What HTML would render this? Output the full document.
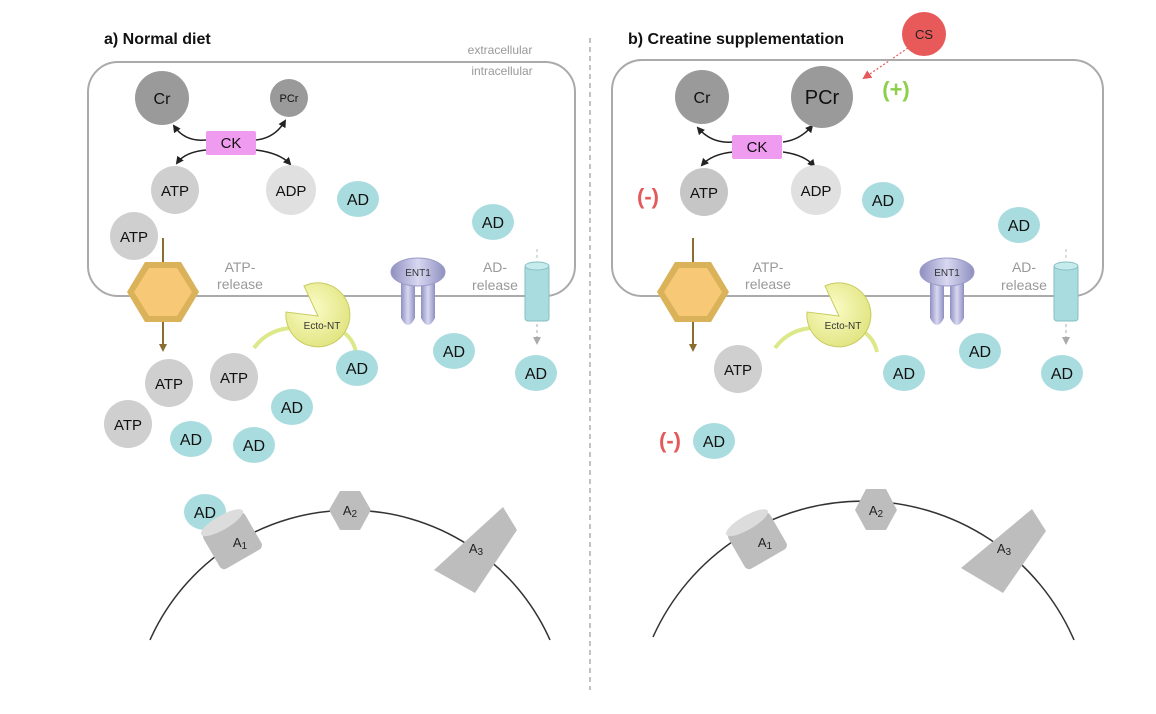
<!DOCTYPE html>
<html><head><meta charset="utf-8"><style>
html,body{margin:0;padding:0;background:#fff;}
svg{display:block;font-family:"Liberation Sans",sans-serif;}
</style></head><body>
<svg width="1156" height="714" viewBox="0 0 1156 714" xmlns="http://www.w3.org/2000/svg">
<defs>
<marker id="ah" markerWidth="8" markerHeight="8" refX="6" refY="4" orient="auto" markerUnits="userSpaceOnUse"><path d="M0,0 L8,4 L0,8 Z" fill="#222"/></marker>
<marker id="ahb" markerWidth="8" markerHeight="8" refX="6" refY="4" orient="auto" markerUnits="userSpaceOnUse"><path d="M0,0 L8,4 L0,8 Z" fill="#8a6d30"/></marker>
<marker id="ahg" markerWidth="8" markerHeight="8" refX="6" refY="4" orient="auto" markerUnits="userSpaceOnUse"><path d="M0,0 L8,4 L0,8 Z" fill="#aaa"/></marker>
<marker id="ahr" markerWidth="9" markerHeight="9" refX="7" refY="4.5" orient="auto" markerUnits="userSpaceOnUse"><path d="M0,0 L9,4.5 L0,9 Z" fill="#e45a5a"/></marker>
<linearGradient id="ent" x1="0" x2="1"><stop offset="0" stop-color="#8f8fc0"/><stop offset="0.5" stop-color="#d8d8f2"/><stop offset="1" stop-color="#8f8fc0"/></linearGradient>
<radialGradient id="ecto" cx="0.4" cy="0.4" r="0.7"><stop offset="0" stop-color="#fbfcc8"/><stop offset="1" stop-color="#dfe27a"/></radialGradient>
<g id="mem">
 <!-- hexagon channel -->
 <line x1="0" y1="-54" x2="0" y2="-30" stroke="#8a6d30" stroke-width="2"/>
 <polygon points="-18,-30 18,-30 36,0 18,30 -18,30 -36,0" fill="#d9b259"/>
 <polygon points="-14,-24 14,-24 29,0 14,24 -14,24 -29,0" fill="#f7c977"/>
 <line x1="0" y1="30" x2="0" y2="58" stroke="#8a6d30" stroke-width="2" marker-end="url(#ahb)"/>
</g>
<g id="ectont">
 <path d="M154,18 Q170,-4 200,-2" stroke="#dde88a" stroke-width="4" fill="none"/>
 <path d="M235,-2 Q252,4 256,22" stroke="#dde88a" stroke-width="4" fill="none"/>
 <path d="M218,-14 L186,-18 A32,32 0 1,0 204,-44 Z" fill="url(#ecto)" stroke="#c8cc60" stroke-width="1"/>
 <text x="222" y="-1" font-size="10" text-anchor="middle" fill="#333">Ecto-NT</text>
</g>
<g id="ent1">
 <path d="M-17,-10 L-17,28 Q-10,42 -3,28 L-3,-10 Z" fill="url(#ent)"/>
 <path d="M3,-10 L3,28 Q10,42 17,28 L17,-10 Z" fill="url(#ent)"/>
 <ellipse cx="0" cy="-18" rx="27" ry="14" fill="url(#ent)" stroke="#9a9ac8"/>
 <text x="0" y="-14" font-size="10" text-anchor="middle" fill="#333">ENT1</text>
</g>
<g id="cyl">
 <line x1="0" y1="-42" x2="0" y2="-30" stroke="#bbb" stroke-dasharray="3,3"/>
 <rect x="-12" y="-26" width="24" height="56" rx="3" fill="#a9dcdf" stroke="#86bfc2"/>
 <ellipse cx="0" cy="-25" rx="12" ry="4" fill="#c5ebed" stroke="#86bfc2"/>
 <line x1="0" y1="33" x2="0" y2="52" stroke="#aaa" stroke-dasharray="3,3" marker-end="url(#ahg)"/>
</g>
</defs>

<!-- divider -->
<line x1="590" y1="38" x2="590" y2="690" stroke="#999" stroke-width="1.2" stroke-dasharray="5,4"/>

<!-- ===== Panel a ===== -->
<text x="104" y="44" font-size="16" font-weight="bold" fill="#111">a) Normal diet</text>
<text x="500" y="54" font-size="12" text-anchor="middle" fill="#999">extracellular</text>
<text x="502" y="75" font-size="12" text-anchor="middle" fill="#999">intracellular</text>
<rect x="88" y="62" width="487" height="234" rx="30" fill="none" stroke="#aaa" stroke-width="2"/>

<path d="M206,140 Q185,142 174,126" stroke="#222" stroke-width="1.5" fill="none" marker-end="url(#ah)"/>
<path d="M256,140 Q275,138 285,121" stroke="#222" stroke-width="1.5" fill="none" marker-end="url(#ah)"/>
<path d="M206,150 Q185,152 177,163" stroke="#222" stroke-width="1.5" fill="none" marker-end="url(#ah)"/>
<path d="M256,150 Q280,153 290,164" stroke="#222" stroke-width="1.5" fill="none" marker-end="url(#ah)"/>
<circle cx="162" cy="98" r="27" fill="#9a9a9a"/><text x="162" y="104" font-size="16" text-anchor="middle" fill="#111">Cr</text>
<circle cx="289" cy="98" r="19" fill="#9a9a9a"/><text x="289" y="102" font-size="11" text-anchor="middle" fill="#111">PCr</text>
<rect x="206" y="131" width="50" height="24" rx="2" fill="#ef9bef"/><text x="231" y="148" font-size="15" text-anchor="middle" fill="#111">CK</text>
<circle cx="175" cy="190" r="24" fill="#cfcfcf"/><text x="175" y="196" font-size="15" text-anchor="middle" fill="#111">ATP</text>
<circle cx="291" cy="190" r="25" fill="#e0e0e0"/><text x="291" y="196" font-size="15" text-anchor="middle" fill="#111">ADP</text>
<ellipse cx="358" cy="199" rx="21" ry="18" fill="#a9dcdf"/><text x="358" y="205" font-size="16" text-anchor="middle" fill="#111">AD</text>
<circle cx="134" cy="236" r="24" fill="#cfcfcf"/><text x="134" y="242" font-size="15" text-anchor="middle" fill="#111">ATP</text>
<ellipse cx="493" cy="222" rx="21" ry="18" fill="#a9dcdf"/><text x="493" y="228" font-size="16" text-anchor="middle" fill="#111">AD</text>

<use href="#mem" x="163" y="292"/>
<text x="240" y="272" font-size="14" text-anchor="middle" fill="#999">ATP-</text>
<text x="240" y="289" font-size="14" text-anchor="middle" fill="#999">release</text>
<use href="#ectont" x="100" y="330"/>
<use href="#ent1" x="418" y="290"/>
<text x="495" y="272" font-size="14" text-anchor="middle" fill="#999">AD-</text>
<text x="495" y="290" font-size="14" text-anchor="middle" fill="#999">release</text>
<use href="#cyl" x="537" y="291"/>

<ellipse cx="454" cy="351" rx="21" ry="18" fill="#a9dcdf"/><text x="454" y="357" font-size="16" text-anchor="middle" fill="#111">AD</text>
<ellipse cx="536" cy="373" rx="21" ry="18" fill="#a9dcdf"/><text x="536" y="379" font-size="16" text-anchor="middle" fill="#111">AD</text>
<circle cx="169" cy="383" r="24" fill="#cfcfcf"/><text x="169" y="389" font-size="15" text-anchor="middle" fill="#111">ATP</text>
<circle cx="234" cy="377" r="24" fill="#cfcfcf"/><text x="234" y="383" font-size="15" text-anchor="middle" fill="#111">ATP</text>
<circle cx="128" cy="424" r="24" fill="#cfcfcf"/><text x="128" y="430" font-size="15" text-anchor="middle" fill="#111">ATP</text>
<ellipse cx="357" cy="368" rx="21" ry="18" fill="#a9dcdf"/><text x="357" y="374" font-size="16" text-anchor="middle" fill="#111">AD</text>
<ellipse cx="292" cy="407" rx="21" ry="18" fill="#a9dcdf"/><text x="292" y="413" font-size="16" text-anchor="middle" fill="#111">AD</text>
<ellipse cx="191" cy="439" rx="21" ry="18" fill="#a9dcdf"/><text x="191" y="445" font-size="16" text-anchor="middle" fill="#111">AD</text>
<ellipse cx="254" cy="445" rx="21" ry="18" fill="#a9dcdf"/><text x="254" y="451" font-size="16" text-anchor="middle" fill="#111">AD</text>

<!-- cell a -->
<path d="M150,640 A219,219 0 0,1 550,640" fill="none" stroke="#333" stroke-width="1.5"/>
<ellipse cx="205" cy="512" rx="21" ry="18" fill="#a9dcdf"/><text x="205" y="518" font-size="16" text-anchor="middle" fill="#111">AD</text>
<g transform="translate(232,540) rotate(-30)">
 <rect x="-24" y="-20" width="48" height="42" rx="5" fill="#bdbdbd"/>
 <ellipse cx="0" cy="-20" rx="24" ry="7" fill="#dcdcdc"/>
</g>
<text x="240" y="547" font-size="13" text-anchor="middle" fill="#222">A<tspan font-size="10" dy="2">1</tspan></text>
<polygon points="340,491 360,491 371,510 360,530 340,530 329,510" fill="#bdbdbd"/>
<text x="350" y="515" font-size="13" text-anchor="middle" fill="#222">A<tspan font-size="10" dy="2">2</tspan></text>
<polygon points="503,507 517,530 475,593 434,570" fill="#bdbdbd"/>
<text x="476" y="553" font-size="13" text-anchor="middle" fill="#222">A<tspan font-size="10" dy="2">3</tspan></text>

<!-- ===== Panel b ===== -->
<text x="628" y="44" font-size="16" font-weight="bold" fill="#111">b) Creatine supplementation</text>
<circle cx="924" cy="34" r="22" fill="#e85a5a"/><text x="924" y="39" font-size="13" text-anchor="middle" fill="#222">CS</text>
<line x1="908" y1="48" x2="864" y2="78" stroke="#e45a5a" stroke-width="1.2" stroke-dasharray="2,2" marker-end="url(#ahr)"/>
<rect x="612" y="60" width="491" height="236" rx="30" fill="none" stroke="#aaa" stroke-width="2"/>

<path d="M733,142 Q712,144 698,128" stroke="#222" stroke-width="1.5" fill="none" marker-end="url(#ah)"/>
<path d="M783,142 Q800,140 812,126" stroke="#222" stroke-width="1.5" fill="none" marker-end="url(#ah)"/>
<path d="M733,152 Q712,154 702,165" stroke="#222" stroke-width="1.5" fill="none" marker-end="url(#ah)"/>
<path d="M783,152 Q805,155 814,166" stroke="#222" stroke-width="1.5" fill="none" marker-end="url(#ah)"/>
<circle cx="702" cy="97" r="27" fill="#9a9a9a"/><text x="702" y="103" font-size="16" text-anchor="middle" fill="#111">Cr</text>
<circle cx="822" cy="97" r="31" fill="#9a9a9a"/><text x="822" y="104" font-size="20" text-anchor="middle" fill="#111">PCr</text>
<text x="896" y="97" font-size="22" font-weight="bold" text-anchor="middle" fill="#8ccf4a">(+)</text>
<rect x="732" y="135" width="50" height="24" rx="2" fill="#ef9bef"/><text x="757" y="152" font-size="15" text-anchor="middle" fill="#111">CK</text>
<text x="648" y="204" font-size="22" font-weight="bold" text-anchor="middle" fill="#e45a5a">(-)</text>
<circle cx="704" cy="192" r="24" fill="#c6c6c6"/><text x="704" y="198" font-size="15" text-anchor="middle" fill="#111">ATP</text>
<circle cx="816" cy="190" r="25" fill="#e0e0e0"/><text x="816" y="196" font-size="15" text-anchor="middle" fill="#111">ADP</text>
<ellipse cx="883" cy="200" rx="21" ry="18" fill="#a9dcdf"/><text x="883" y="206" font-size="16" text-anchor="middle" fill="#111">AD</text>
<ellipse cx="1019" cy="225" rx="21" ry="18" fill="#a9dcdf"/><text x="1019" y="231" font-size="16" text-anchor="middle" fill="#111">AD</text>

<use href="#mem" x="693" y="292"/>
<text x="768" y="272" font-size="14" text-anchor="middle" fill="#999">ATP-</text>
<text x="768" y="289" font-size="14" text-anchor="middle" fill="#999">release</text>
<use href="#ectont" x="621" y="330"/>
<use href="#ent1" x="947" y="290"/>
<text x="1024" y="272" font-size="14" text-anchor="middle" fill="#999">AD-</text>
<text x="1024" y="290" font-size="14" text-anchor="middle" fill="#999">release</text>
<use href="#cyl" x="1066" y="291"/>

<ellipse cx="980" cy="351" rx="21" ry="18" fill="#a9dcdf"/><text x="980" y="357" font-size="16" text-anchor="middle" fill="#111">AD</text>
<ellipse cx="1062" cy="373" rx="21" ry="18" fill="#a9dcdf"/><text x="1062" y="379" font-size="16" text-anchor="middle" fill="#111">AD</text>
<circle cx="738" cy="369" r="24" fill="#cfcfcf"/><text x="738" y="375" font-size="15" text-anchor="middle" fill="#111">ATP</text>
<ellipse cx="904" cy="373" rx="21" ry="18" fill="#a9dcdf"/><text x="904" y="379" font-size="16" text-anchor="middle" fill="#111">AD</text>
<text x="670" y="448" font-size="22" font-weight="bold" text-anchor="middle" fill="#e45a5a">(-)</text>
<ellipse cx="714" cy="441" rx="21" ry="18" fill="#a9dcdf"/><text x="714" y="447" font-size="16" text-anchor="middle" fill="#111">AD</text>

<!-- cell b -->
<path d="M653,637 A230,230 0 0,1 1074,640" fill="none" stroke="#333" stroke-width="1.5"/>
<g transform="translate(757,540) rotate(-30)">
 <rect x="-24" y="-20" width="48" height="42" rx="5" fill="#bdbdbd"/>
 <ellipse cx="0" cy="-20" rx="24" ry="7" fill="#dcdcdc"/>
</g>
<text x="765" y="547" font-size="13" text-anchor="middle" fill="#222">A<tspan font-size="10" dy="2">1</tspan></text>
<polygon points="866,489 886,489 897,510 886,530 866,530 855,510" fill="#bdbdbd"/>
<text x="876" y="515" font-size="13" text-anchor="middle" fill="#222">A<tspan font-size="10" dy="2">2</tspan></text>
<polygon points="1032,509 1046,531 1003,593 961,568" fill="#bdbdbd"/>
<text x="1004" y="553" font-size="13" text-anchor="middle" fill="#222">A<tspan font-size="10" dy="2">3</tspan></text>
</svg>
</body></html>
